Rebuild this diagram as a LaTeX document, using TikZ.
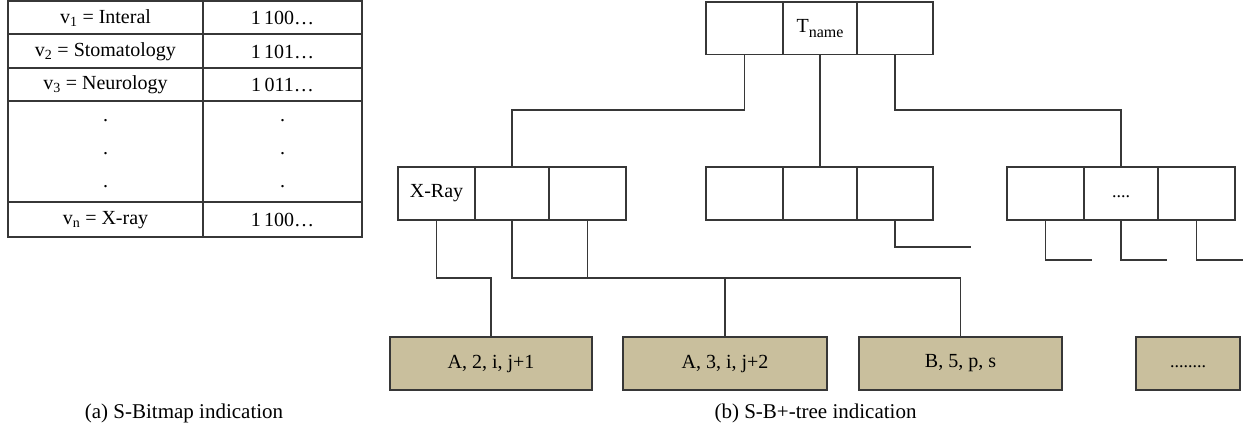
\documentclass[tikz,border=0pt]{standalone}
\usepackage{fontspec}
\setmainfont{Liberation Serif}
\definecolor{leaffill}{RGB}{201,191,157}
\definecolor{ink}{RGB}{55,55,55}
\newcommand{\lowsub}[1]{\raisebox{-5pt}{\fontsize{16}{18}\selectfont #1}}
\begin{document}
\begin{tikzpicture}[x=1pt,y=-1pt,
  every node/.style={font=\fontsize{20}{24}\selectfont, text=black},
  cell/.style={draw=ink, line width=1.4pt, minimum height=53pt, inner sep=0pt, rectangle},
  leaf/.style={draw=ink, line width=1.4pt, fill=leaffill, minimum height=53pt, inner sep=0pt, rectangle},
  wire/.style={draw=ink, line width=1.2pt},
  grid/.style={draw=ink, line width=1.3pt},
  vdot/.style={anchor=base},
  caption/.style={font=\fontsize{21}{25}\selectfont}]
\useasboundingbox (0,0) rectangle (1249,432);

% ---- (a) bitmap table ----
\draw[grid, line width=1.6pt] (8,1) rectangle (362,237);
\draw[grid] (203,1) -- (203,237);
\foreach \yy in {34,68,101,202} \draw[grid] (8,\yy) -- (362,\yy);
\node (r1a) at (105.5,18) {v\textsubscript{1} = Interal};
\node (r1b) at (282.5,18) {1\,100\ldots};
\node (r2a) at (105.5,51.5) {v\textsubscript{2} = Stomatology};
\node (r2b) at (282.5,51.5) {1\,101\ldots};
\node (r3a) at (105.5,85) {v\textsubscript{3} = Neurology};
\node (r3b) at (282.5,85) {1\,011\ldots};
\foreach \yy/\k in {121/1,154/2,187/3} {
  \node[vdot] (da\k) at (105.5,\yy) {.};
  \node[vdot] (db\k) at (282.5,\yy) {.};
}
\node (rna) at (105.5,220) {v\textsubscript{n} = X-ray};
\node (rnb) at (282.5,220) {1\,100\ldots};
\node[caption] (capa) at (184,413) {(a) S-Bitmap indication};

% ---- (b) tree: root ----
\node[cell, minimum width=77pt, minimum height=52.5pt] (t1) at (744.5,28.25) {};
\node[cell, minimum width=74pt, minimum height=52.5pt] (t2) at (820,28.25) {T\lowsub{name}};
\node[cell, minimum width=76pt, minimum height=52.5pt] (t3) at (895,28.25) {};

% ---- inner nodes ----
\node[cell, minimum width=77pt] (a1) at (436.5,193.5) {X-Ray};
\node[cell, minimum width=74pt] (a2) at (512,193.5) {};
\node[cell, minimum width=77pt] (a3) at (587.5,193.5) {};

\node[cell, minimum width=77pt] (b1) at (744.5,193.5) {};
\node[cell, minimum width=74pt] (b2) at (820,193.5) {};
\node[cell, minimum width=76pt] (b3) at (895,193.5) {};

\node[cell, minimum width=77pt] (c1) at (1045.5,193.5) {};
\node[cell, minimum width=74pt] (c2) at (1121,193.5) {\fontsize{18}{20}\selectfont\vphantom{Ag}....};
\node[cell, minimum width=77pt] (c3) at (1196.5,193.5) {};

% ---- leaves ----
\node[leaf, minimum width=202pt] (l1) at (491,363.5) {A, 2, i, j+1};
\node[leaf, minimum width=204pt] (l2) at (725,363.5) {A, 3, i, j+2};
\node[leaf, minimum width=203pt] (l3) at (960.5,363.5) {B, 5, p, s};
\node[leaf, minimum width=104pt] (l4) at (1188,363.5) {\fontsize{18}{20}\selectfont\vphantom{Ag}........};
\node[caption] (capb) at (815.5,413) {(b) S-B+-tree indication};

% ---- connectors ----
\coordinate (j1) at (744.5,110);
\coordinate (j2) at (895,110);
\draw[wire] (t1.south) -- (j1) -| (a2.north);
\draw[wire] (t2.south) -- (b2.north);
\draw[wire] (t3.south) -- (j2) -| (c2.north);

\coordinate (k1) at (436.5,278);
\coordinate (k2) at (512,278);
\coordinate (k3) at (960.5,278);
\draw[wire] (a1.south) -- (k1) -| (l1.north);
\draw[wire] (a2.south) -- (k2) -- (k3) -- (l3.north);
\draw[wire] (a3.south) -- (a3.south |- k2);
\draw[wire] (l2.north) -- (l2.north |- k2);

\coordinate (e1) at (971,247);
\draw[wire] (b3.south) |- (e1);
\coordinate (f1) at (1092,260);
\coordinate (f2) at (1167,260);
\coordinate (f3) at (1243,260);
\draw[wire] (c1.south) |- (f1);
\draw[wire] (c2.south) |- (f2);
\draw[wire] (c3.south) |- (f3);
\end{tikzpicture}
\end{document}
